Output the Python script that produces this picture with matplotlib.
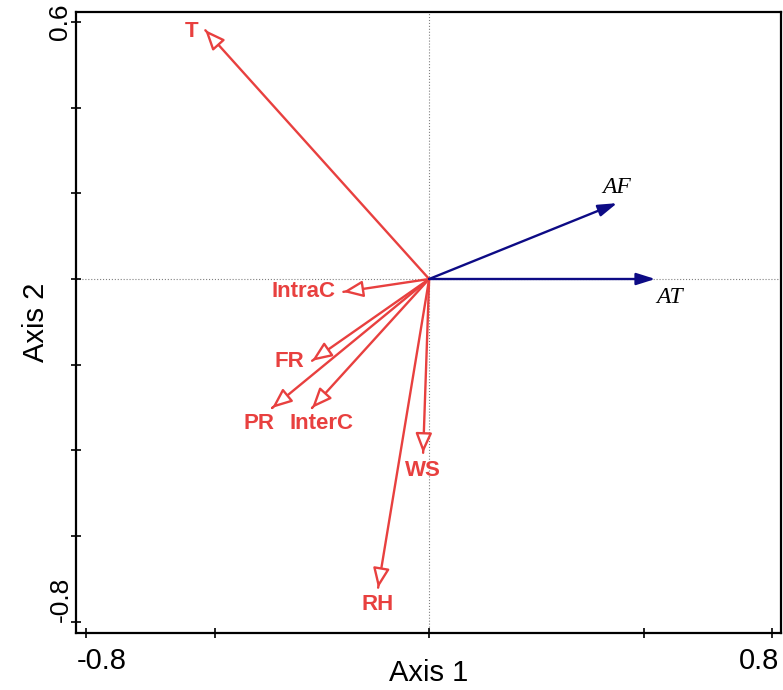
import matplotlib.pyplot as plt

plt.rcParams['font.family'] = ['Liberation Sans', 'DejaVu Sans']

# environmental vectors (red, open heads)
env_names = ['T', 'IntraC', 'FR', 'PR', 'InterC', 'WS', 'RH']
env_x = [-0.522, -0.200, -0.273, -0.366, -0.273, -0.014, -0.119]
env_y = [0.581, -0.030, -0.191, -0.301, -0.301, -0.406, -0.721]

# response vectors (blue, filled heads)
resp_names = ['AF', 'AT']
resp_x = [0.438, 0.527]
resp_y = [0.177, 0.0]

xticks = [-0.8, -0.5, 0, 0.5, 0.8]
xticklabels = ['-0.8', '', '', '', '0.8']
yticks = [0.6, 0.4, 0.2, 0, -0.2, -0.4, -0.6, -0.8]
yticklabels = ['0.6', '', '', '', '', '', '', '-0.8']

# label offsets in pixels from arrow tips
env_off = [(-14, -1), (-40, 0), (-23, -1), (-13, -15), (10, -15), (0, -17), (0, -16)]
resp_off = [(0, 16), (14, -18)]

red = '#e8403f'
blue = '#0d0b85'

fig = plt.figure(figsize=(7.83, 6.9), dpi=100)
ax = fig.add_axes([0.097, 0.0826, 0.9005, 0.9])

ax.axhline(0, color='grey', ls=':', lw=0.8, zorder=1)
ax.axvline(0, color='grey', ls=':', lw=0.8, zorder=1)

head_len = 12  # points
for name, x, y, off in zip(env_names, env_x, env_y, env_off):
    # shaft stops at the base of the open head
    ax.annotate('', xy=(x, y), xytext=(0, 0),
                arrowprops=dict(arrowstyle='-', color=red, lw=1.7,
                                shrinkA=0, shrinkB=head_len))
    ax.annotate('', xy=(x, y), xytext=(x * 0.999, y * 0.999),
                arrowprops=dict(arrowstyle='-|>,head_length=1.2,head_width=0.5',
                                fc='white', ec=red, lw=1.7,
                                shrinkA=0, shrinkB=0, mutation_scale=10))
    ax.annotate(name, xy=(x, y), xytext=off, textcoords='offset pixels',
                ha='center', va='center', color=red, fontsize=16,
                fontweight='bold')

for name, x, y, off in zip(resp_names, resp_x, resp_y, resp_off):
    ax.annotate('', xy=(x, y), xytext=(0, 0),
                arrowprops=dict(arrowstyle='-|>,head_length=0.95,head_width=0.3',
                                fc=blue, ec=blue, lw=1.7,
                                shrinkA=0, shrinkB=0, mutation_scale=12))
    ax.annotate(name, xy=(x, y), xytext=off, textcoords='offset pixels',
                ha='center', va='center', color='black', fontsize=17,
                fontstyle='italic', family=['Liberation Serif', 'DejaVu Serif'])

ax.set_xlim(-0.823, 0.82)
ax.set_ylim(-0.826, 0.623)

# x tick labels drawn as text so the end labels can sit inside the frame
ax.set_xticks(xticks)
ax.set_xticklabels([])
xform = ax.get_xaxis_transform()
for t, lab in zip(xticks, xticklabels):
    if not lab:
        continue
    dx = 16 if t < 0 else -13
    ax.annotate(lab, xy=(t, 0), xycoords=xform, xytext=(dx, -28),
                textcoords='offset pixels', ha='center', va='center',
                fontsize=21, annotation_clip=False)

ax.set_yticks(yticks)
yl = ax.set_yticklabels(yticklabels, fontsize=19, rotation=90, va='center')
yl[-1].set_va('bottom')
ax.tick_params(direction='inout', length=7, width=1.2)
ax.tick_params(axis='y', pad=-1)

for s in ax.spines.values():
    s.set_linewidth(1.6)

ax.set_xlabel('Axis 1', fontsize=21, labelpad=12)
ax.set_ylabel('Axis 2', fontsize=21, labelpad=-1)

fig.savefig('out.png', dpi=100)
